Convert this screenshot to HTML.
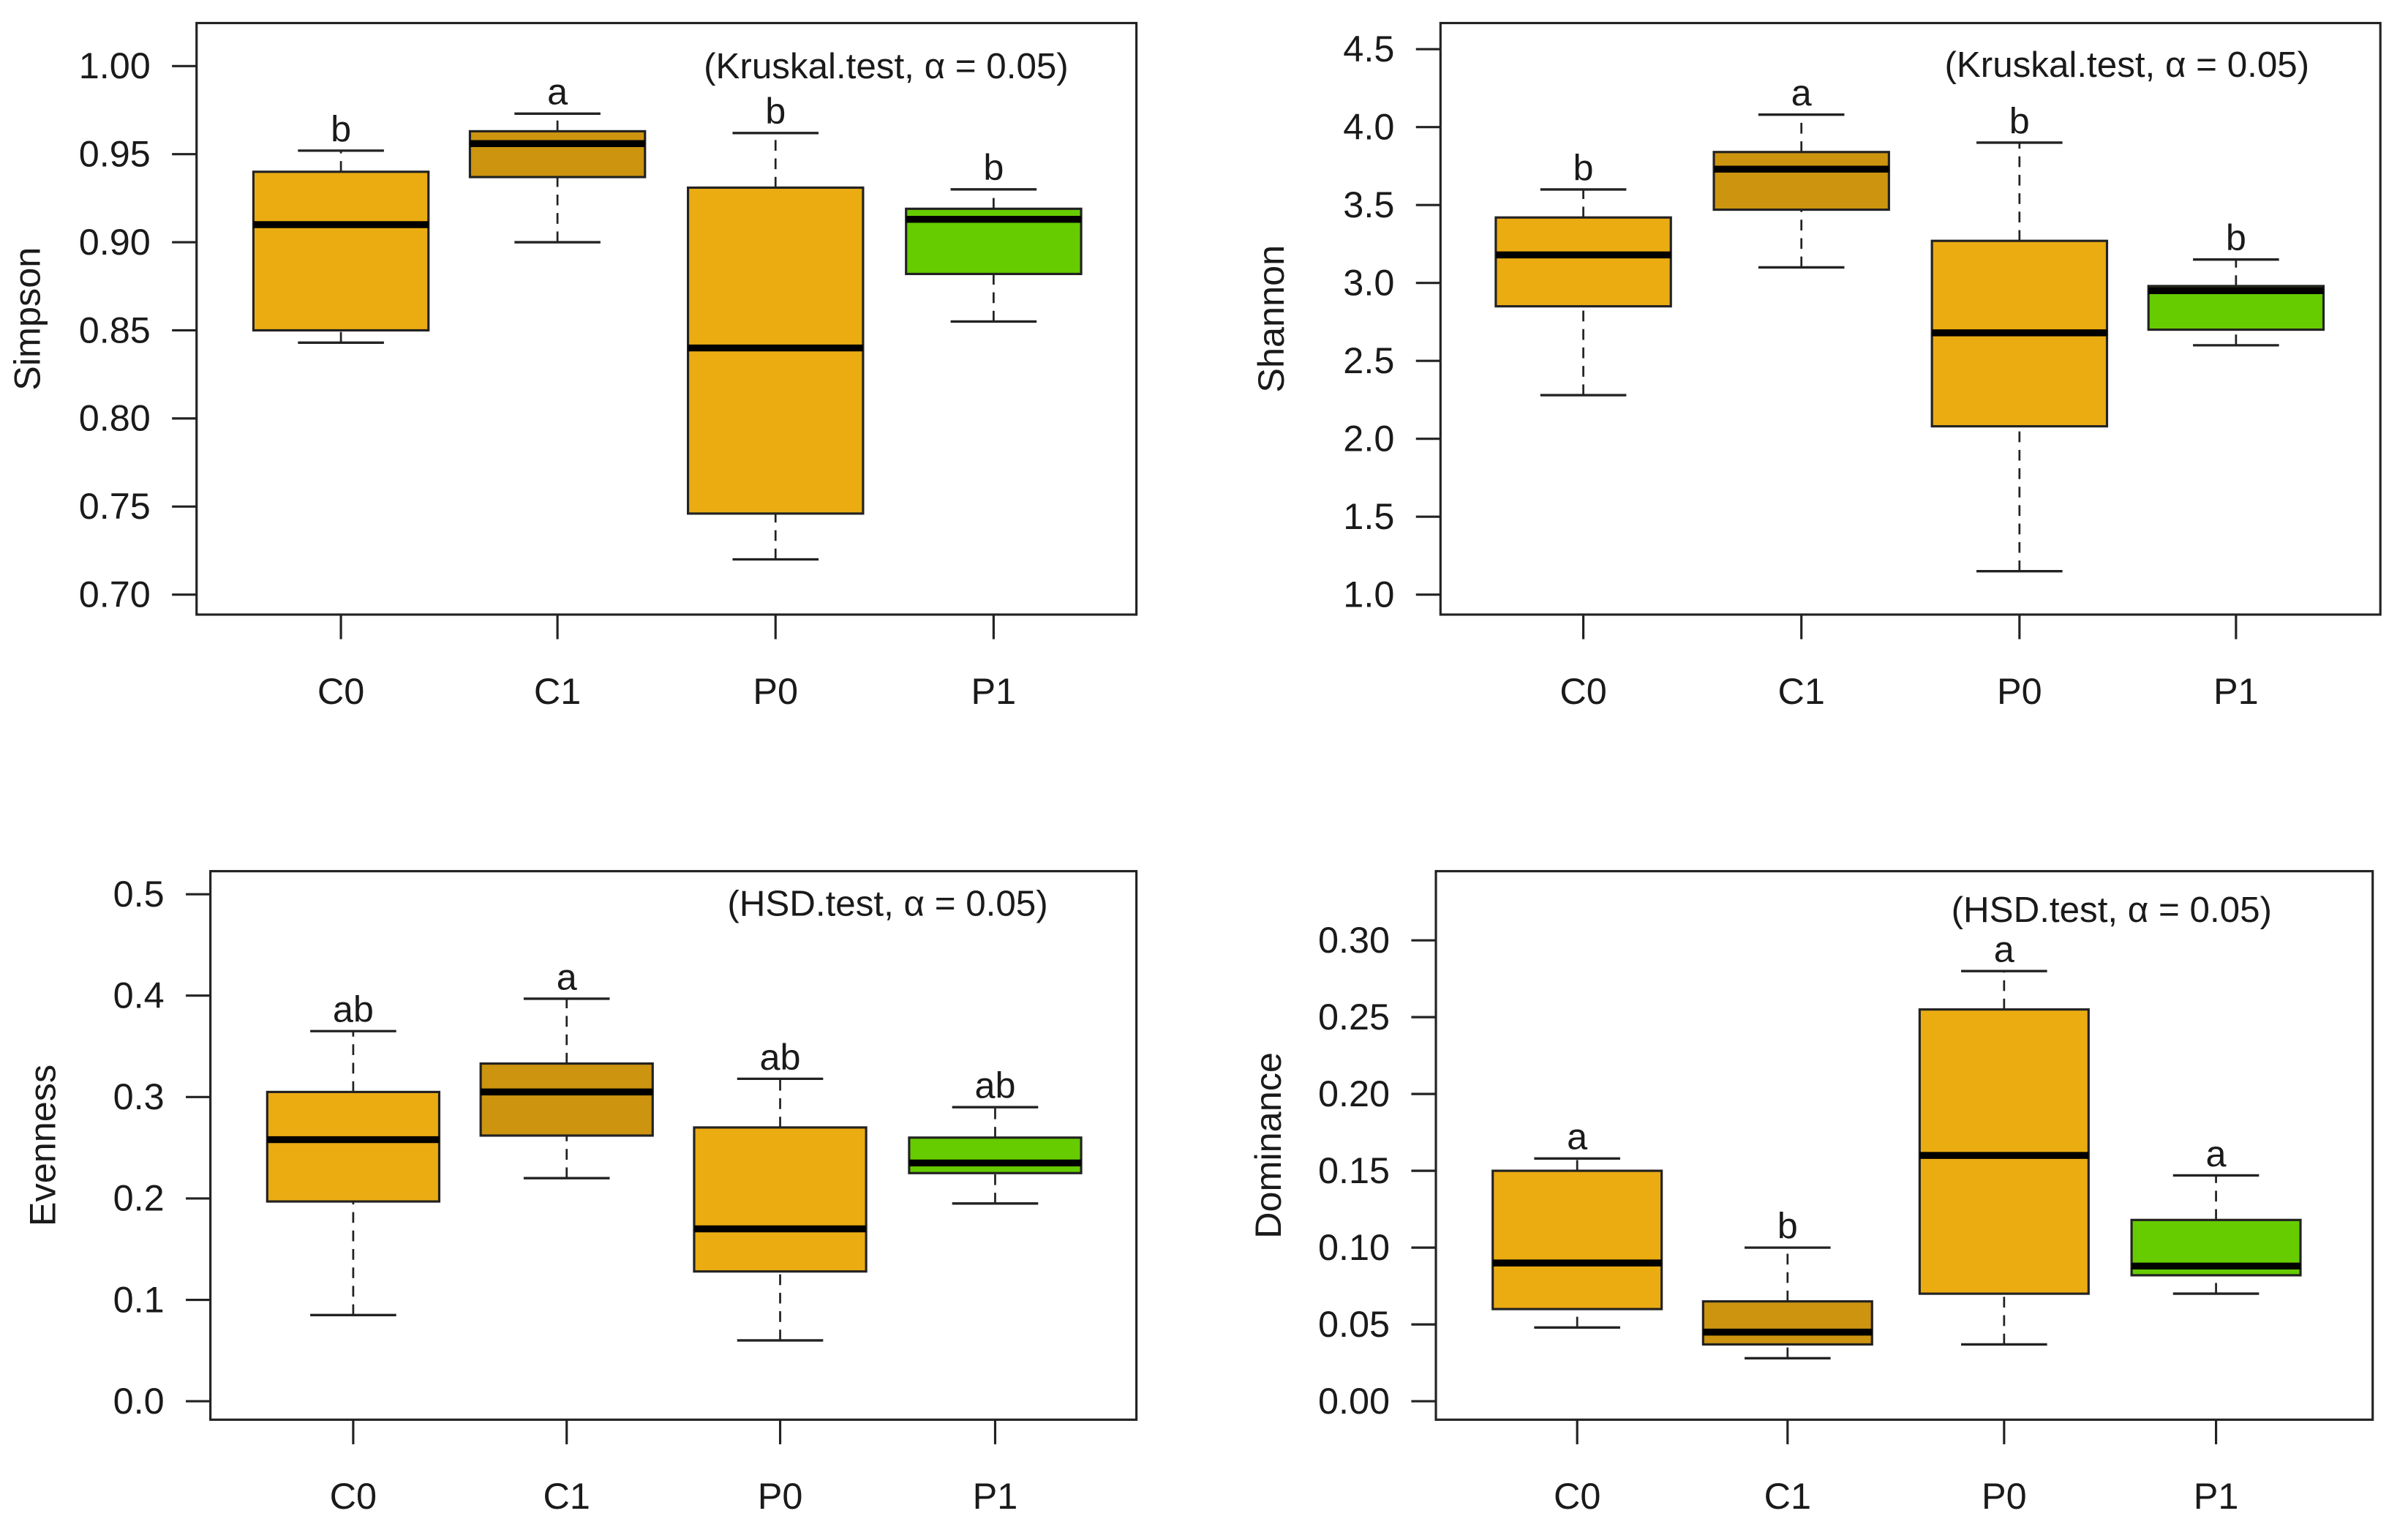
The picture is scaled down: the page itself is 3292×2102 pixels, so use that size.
<!DOCTYPE html>
<html><head><meta charset="utf-8">
<style>
html,body{margin:0;padding:0;background:#fff;}
svg{display:block;}
text{font-family:"Liberation Sans Narrow","Liberation Sans",sans-serif;fill:#1a1a1a;}
</style></head>
<body>
<svg id="fig" width="3292" height="2102" viewBox="0 0 1568 1001" preserveAspectRatio="none" xmlns="http://www.w3.org/2000/svg"></svg>
<script>
const categories = ["C0","C1","P0","P1"];
// Simpson [low, q1, median, q3, high]
const simpsonStats = [[0.843,0.850,0.910,0.940,0.952],[0.900,0.937,0.956,0.963,0.973],[0.720,0.746,0.840,0.931,0.962],[0.855,0.882,0.913,0.919,0.930]];
const simpsonLetters = ["b","a","b","b"];
const simpsonTicks = [0.70,0.75,0.80,0.85,0.90,0.95,1.00];
const simpsonTickLabels = ["0.70","0.75","0.80","0.85","0.90","0.95","1.00"];
// Shannon
const shannonStats = [[2.28,2.85,3.18,3.42,3.60],[3.10,3.47,3.73,3.84,4.08],[1.15,2.08,2.68,3.27,3.90],[2.60,2.70,2.95,2.98,3.15]];
const shannonLetters = ["b","a","b","b"];
const shannonTicks = [1.0,1.5,2.0,2.5,3.0,3.5,4.0,4.5];
const shannonTickLabels = ["1.0","1.5","2.0","2.5","3.0","3.5","4.0","4.5"];
// Evenness
const evennessStats = [[0.085,0.197,0.258,0.305,0.365],[0.220,0.262,0.305,0.333,0.397],[0.060,0.128,0.170,0.270,0.318],[0.195,0.225,0.235,0.260,0.290]];
const evennessLetters = ["ab","a","ab","ab"];
const evennessTicks = [0.0,0.1,0.2,0.3,0.4,0.5];
const evennessTickLabels = ["0.0","0.1","0.2","0.3","0.4","0.5"];
// Dominance
const dominanceStats = [[0.048,0.060,0.090,0.150,0.158],[0.028,0.037,0.045,0.065,0.100],[0.037,0.070,0.160,0.255,0.280],[0.070,0.082,0.088,0.118,0.147]];
const dominanceLetters = ["a","b","a","a"];
const dominanceTicks = [0.00,0.05,0.10,0.15,0.20,0.25,0.30];
const dominanceTickLabels = ["0.00","0.05","0.10","0.15","0.20","0.25","0.30"];

const fills = ["#EBAC12","#CC940F","#EBAC12","#66CC00"];
const NS = "http://www.w3.org/2000/svg";
const fig = document.getElementById('fig');

function mk(tag, attrs, parent, txt){
  const e = document.createElementNS(NS, tag);
  for (const k in attrs) e.setAttribute(k, attrs[k]);
  if (txt !== undefined) e.textContent = txt;
  parent.appendChild(e);
  return e;
}

function panel(cfg){
  const g = mk('g', {}, fig);
  
  
  const t0 = cfg.ticks[0], t1 = cfg.ticks[cfg.ticks.length-1];
  const y = v => cfg.yBot + (v - t0) / (t1 - t0) * (cfg.yTop - cfg.yBot);
  const x = i => cfg.xs[i];
  const fr = mk('rect', {x:cfg.L, y:cfg.T, width:cfg.R-cfg.L, height:cfg.B-cfg.T, fill:'none', stroke:'#222', 'stroke-width':1.5}, g);
  
  
  cfg.ticks.forEach((t, i) => {
    const ty = y(t);
    const tk = mk('line', {x1:cfg.L-16, x2:cfg.L, y1:ty, y2:ty, stroke:'#222', 'stroke-width':1.5}, g);
    
    
    const lb = mk('text', {x:cfg.L-30, y:ty+8, 'text-anchor':'end', 'font-size':24}, g, cfg.tickLabels[i]);
    
    
  });
  const yt = mk('text', {x:0, y:0, 'text-anchor':'middle', 'font-size':24, transform:`translate(${cfg.ylx},${(cfg.T+cfg.B)/2}) rotate(-90)`}, g, cfg.ytitle);
  
  
  const an = mk('text', {x:cfg.annX, y:cfg.annY, 'text-anchor':'middle', 'font-size':23.5}, g, cfg.ann);
  
  
  const hw = cfg.hw;
  categories.forEach((c, i) => {
    const s = cfg.stats[i];
    const cx = x(i);
    const xt = mk('line', {x1:cx, x2:cx, y1:cfg.B, y2:cfg.B+16, stroke:'#222', 'stroke-width':1.5}, g);
    
    
    const xl = mk('text', {x:cx, y:cfg.B+58, 'text-anchor':'middle', 'font-size':24}, g, c);
    
    
    const bg = mk('g', {}, g);
    
    
    mk('line', {x1:cx, x2:cx, y1:y(s[0]), y2:y(s[1]), stroke:'#222', 'stroke-width':1.3, 'stroke-dasharray':'7,5'}, bg);
    mk('line', {x1:cx, x2:cx, y1:y(s[3]), y2:y(s[4]), stroke:'#222', 'stroke-width':1.3, 'stroke-dasharray':'7,5'}, bg);
    mk('line', {x1:cx-28, x2:cx+28, y1:y(s[0]), y2:y(s[0]), stroke:'#222', 'stroke-width':1.6}, bg);
    mk('line', {x1:cx-28, x2:cx+28, y1:y(s[4]), y2:y(s[4]), stroke:'#222', 'stroke-width':1.6}, bg);
    mk('rect', {x:cx-hw, y:y(s[3]), width:2*hw, height:y(s[1])-y(s[3]), fill:fills[i], stroke:'#222', 'stroke-width':1.5}, bg);
    mk('line', {x1:cx-hw, x2:cx+hw, y1:y(s[2]), y2:y(s[2]), stroke:'#000', 'stroke-width':4.5}, bg);
    const lt = mk('text', {x:cx, y:y(s[4])-6, 'text-anchor':'middle', 'font-size':24}, g, cfg.letters[i]);
    
    
  });
}

panel({name:'simpson', L:128, R:740, T:15, B:400, yTop:43, yBot:387, xs:[222,363,505,647], hw:57,
  ticks:simpsonTicks, tickLabels:simpsonTickLabels, stats:simpsonStats, letters:simpsonLetters,
  ytitle:'Simpson', ylx:26, ann:'(Kruskal.test, α = 0.05)', annX:577, annY:51});
panel({name:'shannon', L:938, R:1550, T:15, B:400, yTop:32, yBot:387, xs:[1031,1173,1315,1456], hw:57,
  ticks:shannonTicks, tickLabels:shannonTickLabels, stats:shannonStats, letters:shannonLetters,
  ytitle:'Shannon', ylx:836, ann:'(Kruskal.test, α = 0.05)', annX:1385, annY:50});
panel({name:'evenness', L:137, R:740, T:567, B:924, yTop:582, yBot:912, xs:[230,369,508,648], hw:56,
  ticks:evennessTicks, tickLabels:evennessTickLabels, stats:evennessStats, letters:evennessLetters,
  ytitle:'Evenness', ylx:36, ann:'(HSD.test, α = 0.05)', annX:578, annY:596});
panel({name:'dominance', L:935, R:1545, T:567, B:924, yTop:612, yBot:912, xs:[1027,1164,1305,1443], hw:55,
  ticks:dominanceTicks, tickLabels:dominanceTickLabels, stats:dominanceStats, letters:dominanceLetters,
  ytitle:'Dominance', ylx:834, ann:'(HSD.test, α = 0.05)', annX:1375, annY:600});
</script>
</body></html>
